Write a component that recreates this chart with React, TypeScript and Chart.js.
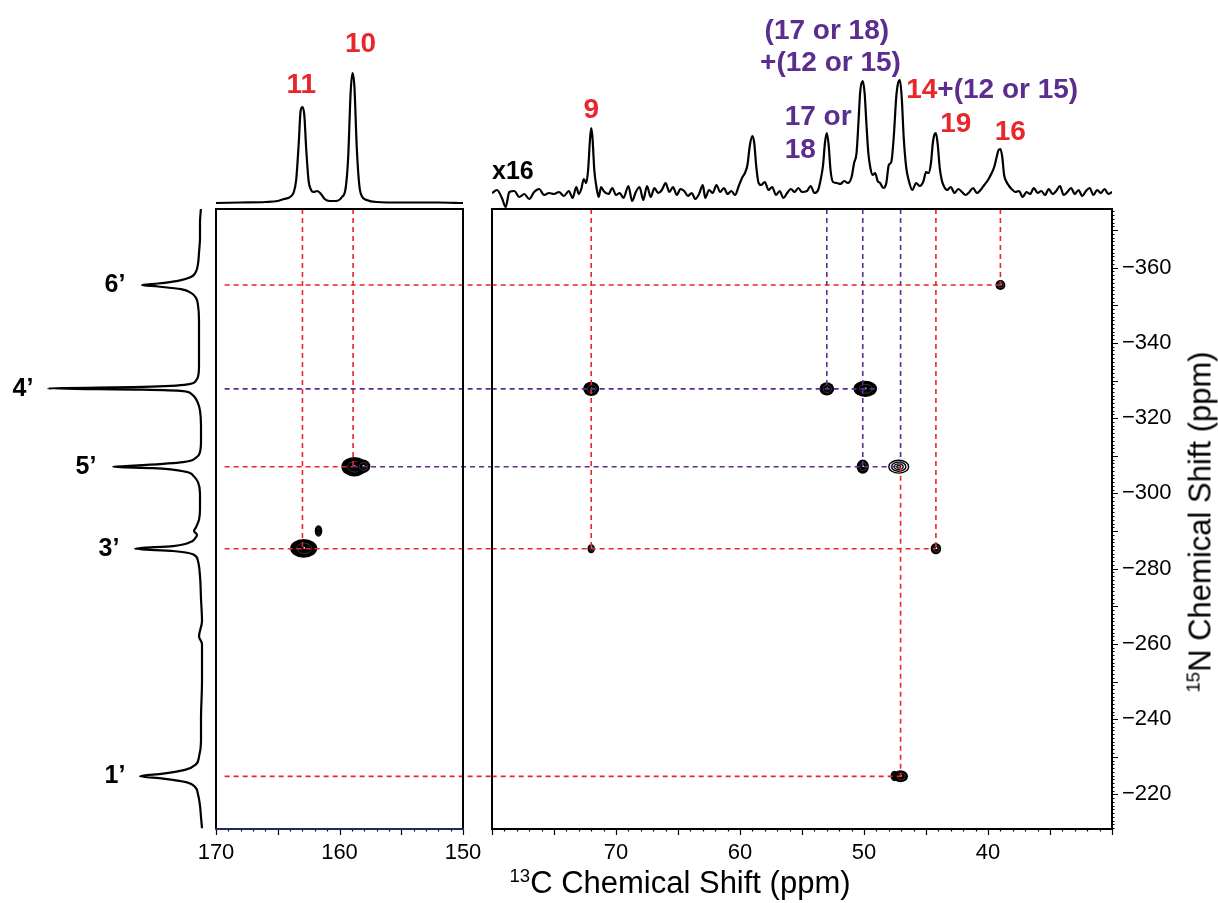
import React, { useEffect, useRef } from "react";
import { Chart, registerables } from "chart.js";

Chart.register(...registerables);

const FONT = '"Liberation Sans", Arial, Helvetica, sans-serif';
const RED = "#e8262c";
const PURPLE = "#5b2d8e";
const NAVY = "#1f2b5c";

// 15N axis range (ppm), shown top (-375.6) to bottom (-210.8)
const N_MIN = -375.6;
const N_MAX = -210.8;

// ---------- axis tick labels ----------
const cTicksLeft = [170, 160, 150];
const cTicksRight = [70, 60, 50, 40];
const nTicks = [-360, -340, -320, -300, -280, -260, -240, -220];

// ---------- 1D 13C projection, 170-150 ppm ----------
const topLeftC = [170, 168, 166, 165, 164.5, 164, 163.7, 163.5, 163.3, 163.15, 163.0, 162.85, 162.7, 162.5, 162.3, 162.1, 161.8, 161.5, 161.2, 160.8, 160.3, 159.8, 159.5, 159.3, 159.1, 158.95, 158.8, 158.6, 158.4, 158.2, 157.8, 157, 155, 152, 150];
const topLeftI = [0, 0.5, 1, 2, 4, 6, 11, 24, 60, 92, 96, 88, 55, 22, 13, 11, 12, 9, 4, 2, 2, 6, 15, 45, 110, 130, 118, 55, 18, 7, 3, 1, 0.5, 0.5, 0];

// ---------- 1D 13C projection (x16), 80-30 ppm ----------
const topRightC = [
  80.0, 79.6, 79.2, 78.9, 78.6, 78.2, 77.8, 77.4, 77.0, 76.6, 76.2, 75.8, 75.4, 75.0, 74.6, 74.2, 73.8, 73.5, 73.2, 73.0,
  72.8, 72.6, 72.4, 72.25, 72.1, 72.0, 71.9, 71.75, 71.6, 71.4, 71.2, 71.0, 70.6, 70.3, 70.0, 69.7, 69.4, 69.0, 68.7, 68.4,
  68.1, 67.8, 67.5, 67.2, 66.9, 66.6, 66.3, 66.0, 65.7, 65.4, 65.1, 64.8, 64.5, 64.2, 63.9, 63.6, 63.3, 63.0, 62.8, 62.5,
  62.2, 61.9, 61.6, 61.3, 61.0, 60.7, 60.4, 60.1, 59.8, 59.6, 59.4, 59.2, 59.0, 58.85, 58.7, 58.5, 58.3, 58.0, 57.7, 57.4,
  57.1, 56.8, 56.5, 56.2, 55.9, 55.6, 55.3, 55.0, 54.6, 54.3, 54.0, 53.7, 53.5, 53.3, 53.15, 53.0, 52.85, 52.7, 52.5, 52.2,
  51.9, 51.6, 51.3, 51.0, 50.8, 50.6, 50.45, 50.3, 50.1, 49.95, 49.8, 49.65, 49.5, 49.3, 49.1, 48.9, 48.7, 48.45, 48.2, 48.0,
  47.8, 47.6, 47.4, 47.25, 47.1, 46.95, 46.8, 46.6, 46.4, 46.1, 45.8, 45.5, 45.2, 45.0, 44.8, 44.6, 44.45, 44.3, 44.2, 44.05,
  43.9, 43.75, 43.6, 43.3, 43.0, 42.7, 42.4, 42.1, 41.8, 41.5, 41.2, 40.9, 40.6, 40.3, 40.0, 39.7, 39.5, 39.3, 39.15, 39.0,
  38.85, 38.7, 38.5, 38.3, 38.1, 37.8, 37.5, 37.2, 36.9, 36.6, 36.3, 36.0, 35.7, 35.4, 35.1, 34.8, 34.5, 34.2, 33.9, 33.6,
  33.3, 33.0, 32.7, 32.4, 32.1, 31.8, 31.5, 31.2, 30.9, 30.6, 30.3, 30.0,
];
const topRightI = [
  2, 5, -3, -12, 3, 4, -2, 1, -4, 3, 6, 0, 2, 1, 3, -1, 4, -3, 8, 1,
  6, 16, 12, 25, 55, 67, 58, 25, 10, -2, 8, 4, 1, 7, 0, 2, -3, 9, -6, 3,
  8, -5, 9, -2, 7, 2, 5, 12, 3, 8, 0, 6, 4, -1, 2, -4, 1, 10, -3, 5,
  2, 10, 3, 7, 1, 4, 0, 9, 18, 22, 30, 50, 59, 52, 30, 12, 10, 13, 5, 8,
  0, 4, -3, 2, 6, 3, 7, 3, 4, 9, 2, 5, 15, 30, 52, 62, 50, 25, 13, 12,
  11, 14, 12, 18, 32, 42, 72, 104, 114, 102, 70, 42, 28, 20, 22, 14, 12, 7, 12, 30,
  33, 58, 98, 112, 115, 96, 58, 28, 15, 5, 12, 9, 14, 23, 22, 32, 52, 61, 62, 50,
  28, 16, 10, 5, 8, 2, 6, 3, 0, 3, 7, 2, 5, 10, 15, 22, 28, 38, 45, 46,
  38, 20, 13, 9, 6, 3, 4, -2, 3, 1, 7, 2, 4, 0, 6, 1, 4, 9, 0, 3,
  7, 1, 5, -1, 4, 7, 0, 5, 2, 6, 1, 3,
];

// ---------- 1D 15N projection ----------
const nProjN = [
  -376, -372, -368, -364, -361, -359, -357.5, -356.5, -355.8, -355.4, -355.0, -354.3, -353.3, -352, -350, -346, -342, -338, -334, -331,
  -330, -329, -328.3, -327.9, -327.6, -327.2, -326.5, -325.5, -324, -322, -318, -314, -311, -309.5, -308.3, -307.5, -307.1, -306.7, -305.8, -304.5,
  -303, -300, -296, -293, -291, -290, -289, -288, -287, -286, -285.3, -284.7, -283.8, -282, -278, -272, -266, -262, -260, -250,
  -240, -234, -230, -228, -226.5, -225.5, -224.8, -224.2, -223.2, -222, -220, -217, -214, -211,
];
const nProjI = [
  2, 3, 3, 4, 5, 7, 12, 25, 45, 61, 45, 22, 12, 7, 5, 4, 4, 4, 4, 5,
  7, 15, 60, 155, 60, 20, 12, 8, 5, 3, 2, 2, 3, 7, 20, 60, 90, 50, 18, 9,
  5, 3, 3, 4, 7, 9, 6, 8, 13, 30, 68, 30, 10, 5, 3, 2, 1, 4, 1, 1,
  2, 2, 4, 7, 18, 40, 63, 40, 16, 8, 5, 3, 2, 1,
];

// ---------- 2D cross peaks (13C ppm, 15N ppm, widths in ppm) ----------
const peakC = [162.9, 161.7, 158.8, 158.1, 72.0, 53.0, 49.9, 50.1, 47.2, 72.0, 44.2, 39.0, 47.05, 47.55];
const peakN = [-285.4, -290.0, -307.1, -307.2, -327.8, -327.8, -327.8, -307.1, -307.1, -285.3, -285.3, -355.4, -224.8, -224.9];
const peakWC = [2.2, 0.5, 2.1, 1.2, 1.3, 1.2, 1.9, 1.0, 1.6, 0.6, 0.85, 0.8, 1.2, 0.5];
const peakWN = [5.0, 2.7, 5.2, 3.6, 3.8, 3.5, 4.3, 3.8, 3.4, 2.4, 3.0, 2.7, 3.2, 2.4];
const peakFilled = [1, 0, 1, 1, 1, 1, 1, 1, 0, 1, 1, 1, 1, 0];

// ---------- assignment guide lines ----------
const hLineN = [-355.4, -327.8, -307.1, -307.1, -285.3, -224.8];
const hLineFrom = [169.3, 169.3, 169.3, 158.9, 169.3, 169.3];
const hLineTo = [39.0, 48.8, 158.9, 47.2, 44.2, 47.05];
const hLineColor = [RED, PURPLE, RED, PURPLE, RED, RED];

const vLineC = [163.0, 158.9, 72.0, 53.0, 50.1, 47.05, 47.05, 44.2, 39.0];
const vLineFrom = [N_MIN, N_MIN, N_MIN, N_MIN, N_MIN, N_MIN, -307.1, N_MIN, N_MIN];
const vLineTo = [-285.3, -307.1, -285.3, -327.8, -307.1, -307.1, -224.8, -285.3, -355.4];
const vLineColor = [RED, RED, RED, PURPLE, PURPLE, PURPLE, RED, RED, RED];

// ---------- peak labels ----------
const topLeftLabelParts = [["11"], ["10"]];
const topLeftLabelColors = [[RED], [RED]];
const topLeftLabelC = [163.1, 158.3];
const topLeftLabelV = [118, 159];
const topLeftLabelAlign = ["center", "center"];
const topLeftLabelSize = [28, 28];

const topRightLabelParts = [["9"], ["17 or"], ["18"], ["(17 or 18)"], ["+(12 or 15)"], ["14", "+(12 or 15)"], ["19"], ["16"], ["x16"]];
const topRightLabelColors = [[RED], [PURPLE], [PURPLE], [PURPLE], [PURPLE], [RED, PURPLE], [RED], [RED], ["#000"]];
const topRightLabelC = [72.0, 56.4, 56.4, 53.0, 52.7, 46.6, 42.6, 38.2, 80.0];
const topRightLabelV = [85, 78, 45, 164, 132, 105, 71, 63, 23];
const topRightLabelAlign = ["center", "left", "left", "center", "center", "left", "center", "center", "left"];
const topRightLabelSize = [28, 28, 28, 28, 28, 28, 28, 28, 25];

const nLabelText = ["6\u2019", "4\u2019", "5\u2019", "3\u2019", "1\u2019"];
const nLabelN = [-355.4, -327.8, -307.1, -285.3, -224.8];
const nLabelI = [88, 180, 117, 94, 88];

// ---------------------------------------------------------------

function drawLabels(chart: any, parts: string[][], colors: string[][], xs: number[], ys: number[], aligns: string[], sizes: number[]) {
  const { ctx, scales } = chart;
  const sx = scales.x;
  const sy = scales.y;
  ctx.save();
  ctx.textBaseline = "middle";
  ctx.textAlign = "left";
  parts.forEach((p, i) => {
    ctx.font = `bold ${sizes[i]}px ${FONT}`;
    const total = p.reduce((s, t) => s + ctx.measureText(t).width, 0);
    let px = sx.getPixelForValue(xs[i]);
    const py = sy.getPixelForValue(ys[i]);
    if (aligns[i] === "center") px -= total / 2;
    else if (aligns[i] === "right") px -= total;
    p.forEach((t, j) => {
      ctx.fillStyle = colors[i][j];
      ctx.fillText(t, px, py);
      px += ctx.measureText(t).width;
    });
  });
  ctx.restore();
}

function ellipse(ctx: CanvasRenderingContext2D, cx: number, cy: number, rx: number, ry: number) {
  ctx.beginPath();
  ctx.ellipse(cx, cy, Math.max(rx, 0.5), Math.max(ry, 0.5), 0, 0, Math.PI * 2);
}

function drawPeaks(chart: any) {
  const { ctx, chartArea: a, scales } = chart;
  const x = scales.x;
  const y = scales.y;
  ctx.save();
  ctx.beginPath();
  ctx.rect(a.left, a.top, a.right - a.left, a.bottom - a.top);
  ctx.clip();
  for (let i = 0; i < peakC.length; i++) {
    const cx = x.getPixelForValue(peakC[i]);
    const cy = y.getPixelForValue(peakN[i]);
    const rx = Math.abs(x.getPixelForValue(peakC[i] + peakWC[i] / 2) - cx);
    const ry = Math.abs(y.getPixelForValue(peakN[i] + peakWN[i] / 2) - cy);
    if (peakFilled[i]) {
      ctx.fillStyle = "#000";
      ellipse(ctx, cx, cy, rx, ry);
      ctx.fill();
      ctx.strokeStyle = "#4a4a4a";
      ctx.lineWidth = 0.7;
      ellipse(ctx, cx + 0.5, cy, rx * 0.55, ry * 0.55);
      ctx.stroke();
      ctx.fillStyle = "#fff";
      ellipse(ctx, cx + 0.5, cy - 0.5, 0.9, 0.9);
      ctx.fill();
    } else {
      ctx.strokeStyle = "#000";
      ctx.lineWidth = 1.4;
      [1, 0.72, 0.45, 0.2].forEach((f) => {
        ellipse(ctx, cx, cy, rx * f, ry * f);
        ctx.stroke();
      });
    }
  }
  ctx.restore();
}

function drawFrameAndTicks(chart: any, bottomColor: string, yTicks: boolean) {
  const { ctx, chartArea: a, scales } = chart;
  const x = scales.x;
  const y = scales.y;
  ctx.save();
  ctx.strokeStyle = "#000";
  ctx.lineWidth = 1.2;
  ctx.beginPath();
  for (let v = Math.ceil(x.min); v <= Math.floor(x.max); v++) {
    const px = Math.round(x.getPixelForValue(v)) + 0.5;
    const len = v % 5 === 0 ? 6 : 2.5;
    ctx.moveTo(px, a.bottom);
    ctx.lineTo(px, a.bottom + len);
  }
  if (yTicks) {
    for (let v = Math.ceil(y.min); v <= Math.floor(y.max); v++) {
      const py = Math.round(y.getPixelForValue(v)) + 0.5;
      const len = v % 10 === 0 ? 6 : 2.5;
      ctx.moveTo(a.right, py);
      ctx.lineTo(a.right + len, py);
    }
  }
  ctx.stroke();
  ctx.lineWidth = 2;
  ctx.strokeStyle = "#000";
  ctx.beginPath();
  ctx.moveTo(a.left, a.bottom);
  ctx.lineTo(a.left, a.top);
  ctx.lineTo(a.right, a.top);
  ctx.lineTo(a.right, a.bottom);
  ctx.stroke();
  ctx.strokeStyle = bottomColor;
  ctx.beginPath();
  ctx.moveTo(a.left - 1, a.bottom);
  ctx.lineTo(a.right + 1, a.bottom);
  ctx.stroke();
  ctx.restore();
}

function guideDatasets(clip: any) {
  const ds: any[] = [];
  hLineN.forEach((n, i) => {
    ds.push({
      data: [{ x: hLineFrom[i], y: n }, { x: hLineTo[i], y: n }],
      borderColor: hLineColor[i],
      borderWidth: 1.6,
      borderDash: [5, 4],
      showLine: true,
      pointRadius: 0,
      clip,
    });
  });
  vLineC.forEach((c, i) => {
    ds.push({
      data: [{ x: c, y: vLineFrom[i] }, { x: c, y: vLineTo[i] }],
      borderColor: vLineColor[i],
      borderWidth: 1.6,
      borderDash: [5, 4],
      showLine: true,
      pointRadius: 0,
      clip,
    });
  });
  return ds;
}

const baseOptions = {
  responsive: false,
  animation: false as const,
  events: [] as any[],
  plugins: { legend: { display: false }, tooltip: { enabled: false } },
};

function ChartBox({ left, top, width, height, make }: { left: number; top: number; width: number; height: number; make: () => any }) {
  const ref = useRef<HTMLCanvasElement>(null);
  useEffect(() => {
    const chart = new Chart(ref.current as HTMLCanvasElement, make());
    return () => chart.destroy();
  }, []);
  return <canvas ref={ref} width={width} height={height} style={{ position: "absolute", left, top, width, height }} />;
}

const tickFont = { family: FONT, size: 22 };

function leftPanelConfig() {
  return {
    type: "scatter",
    data: { datasets: guideDatasets({ left: 0, top: 0, right: 30, bottom: 0 }) },
    options: {
      ...baseOptions,
      layout: { padding: { left: 40, right: 40, top: 30, bottom: 0 } },
      scales: {
        x: {
          type: "linear", min: 150, max: 170, reverse: true, position: "bottom",
          afterBuildTicks: (s: any) => { s.ticks = cTicksLeft.map((v) => ({ value: v })); },
          afterFit: (s: any) => { s.height = 74; },
          grid: { display: false, drawTicks: false }, border: { display: false },
          ticks: { padding: 11, font: tickFont, color: "#000", maxRotation: 0, autoSkip: false },
        },
        y: { type: "linear", min: N_MIN, max: N_MAX, reverse: true, display: false },
      },
    },
    plugins: [{
      id: "leftPanel",
      beforeDatasetsDraw: (c: any) => drawPeaks(c),
      afterDraw: (c: any) => drawFrameAndTicks(c, NAVY, false),
    }],
  };
}

function rightPanelConfig() {
  return {
    type: "scatter",
    data: { datasets: guideDatasets(undefined) },
    options: {
      ...baseOptions,
      layout: { padding: { left: 20, right: 0, top: 30, bottom: 0 } },
      scales: {
        x: {
          type: "linear", min: 30, max: 80, reverse: true, position: "bottom",
          afterBuildTicks: (s: any) => { s.ticks = cTicksRight.map((v) => ({ value: v })); },
          afterFit: (s: any) => { s.height = 74; },
          grid: { display: false, drawTicks: false }, border: { display: false },
          ticks: { padding: 11, font: tickFont, color: "#000", maxRotation: 0, autoSkip: false },
        },
        y: {
          type: "linear", min: N_MIN, max: N_MAX, reverse: true, position: "right",
          afterBuildTicks: (s: any) => { s.ticks = nTicks.map((v) => ({ value: v })); },
          afterFit: (s: any) => { s.width = 106; },
          grid: { display: false, drawTicks: false }, border: { display: false },
          ticks: {
            padding: 10, font: tickFont, color: "#000", autoSkip: false,
            callback: (v: any) => "\u2212" + Math.abs(Number(v)),
          },
        },
      },
    },
    plugins: [{
      id: "rightPanel",
      beforeDatasetsDraw: (c: any) => drawPeaks(c),
      afterDraw: (c: any) => drawFrameAndTicks(c, "#000", true),
    }],
  };
}

function spectrumDataset(xs: number[], ys: number[]) {
  return {
    data: xs.map((x, i) => ({ x, y: ys[i] })),
    borderColor: "#000",
    borderWidth: 2.2,
    showLine: true,
    pointRadius: 0,
    cubicInterpolationMode: "monotone",
  };
}

function topLeftConfig() {
  return {
    type: "scatter",
    data: { datasets: [spectrumDataset(topLeftC, topLeftI)] },
    options: {
      ...baseOptions,
      scales: {
        x: { type: "linear", min: 150, max: 170, reverse: true, display: false },
        y: { type: "linear", min: -6, max: 203, display: false },
      },
    },
    plugins: [{
      id: "topLeftLabels",
      afterDraw: (c: any) => drawLabels(c, topLeftLabelParts, topLeftLabelColors, topLeftLabelC, topLeftLabelV, topLeftLabelAlign, topLeftLabelSize),
    }],
  };
}

function topRightConfig() {
  return {
    type: "scatter",
    data: { datasets: [spectrumDataset(topRightC, topRightI)] },
    options: {
      ...baseOptions,
      scales: {
        x: { type: "linear", min: 30, max: 80, reverse: true, display: false },
        y: { type: "linear", min: -14, max: 195, display: false },
      },
    },
    plugins: [{
      id: "topRightLabels",
      afterDraw: (c: any) => drawLabels(c, topRightLabelParts, topRightLabelColors, topRightLabelC, topRightLabelV, topRightLabelAlign, topRightLabelSize),
    }],
  };
}

function nProjConfig() {
  return {
    type: "scatter",
    data: { datasets: [spectrumDataset(nProjI, nProjN)] },
    options: {
      ...baseOptions,
      indexAxis: "y",
      layout: { padding: { left: 0, right: 0, top: 20, bottom: 20 } },
      scales: {
        x: { type: "linear", min: -13, max: 203, reverse: true, display: false },
        y: { type: "linear", min: N_MIN, max: N_MAX, reverse: true, display: false },
      },
    },
    plugins: [{
      id: "nLabels",
      afterDraw: (c: any) =>
        drawLabels(
          c,
          nLabelText.map((t) => [t]),
          nLabelText.map(() => ["#000"]),
          nLabelI,
          nLabelN,
          nLabelText.map(() => "center"),
          nLabelText.map(() => 25),
        ),
    }],
  };
}

export default function App() {
  return (
    <div style={{ position: "fixed", left: 0, top: 0, width: 1218, height: 903, background: "#fff", overflow: "hidden", fontFamily: FONT }}>
      <ChartBox left={0} top={189} width={216} height={660} make={nProjConfig} />
      <ChartBox left={216} top={0} width={247} height={209} make={topLeftConfig} />
      <ChartBox left={492} top={0} width={620} height={209} make={topRightConfig} />
      <ChartBox left={176} top={179} width={327} height={724} make={leftPanelConfig} />
      <ChartBox left={472} top={179} width={746} height={724} make={rightPanelConfig} />
      <div
        style={{
          position: "absolute", left: 680, top: 882, transform: "translate(-50%, -50%)",
          fontSize: 31, color: "#000", whiteSpace: "nowrap", lineHeight: 1,
        }}
      >
        <span style={{ fontSize: "0.6em", position: "relative", top: "-0.6em" }}>13</span>C Chemical Shift (ppm)
      </div>
      <div
        style={{
          position: "absolute", left: 1200, top: 522, transform: "translate(-50%, -50%) rotate(-90deg)",
          fontSize: 31, color: "#000", whiteSpace: "nowrap", lineHeight: 1,
        }}
      >
        <span style={{ fontSize: "0.6em", position: "relative", top: "-0.6em" }}>15</span>N Chemical Shift (ppm)
      </div>
    </div>
  );
}
